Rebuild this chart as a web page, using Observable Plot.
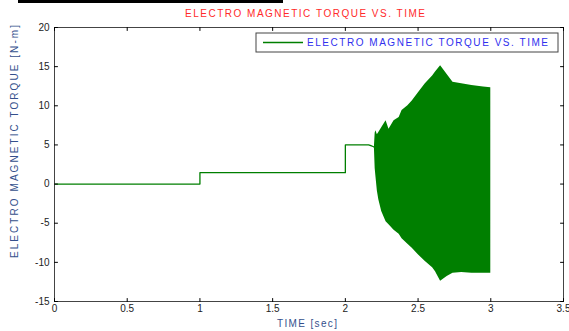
<!DOCTYPE html>
<html>
<head>
<meta charset="utf-8">
<script src="https://cdn.jsdelivr.net/npm/d3@7"></script>
<script src="https://cdn.jsdelivr.net/npm/@observablehq/plot@0.6"></script>
<style>
  html, body { margin: 0; padding: 0; background: #fff; }
  #wrap { position: relative; width: 569px; height: 331px; overflow: hidden; }
  #bar { position: absolute; left: 18px; top: 0; width: 265px; height: 3px; background: #000; z-index: 2; }
  svg { font-family: "Liberation Sans", Arial, sans-serif; }
</style>
</head>
<body>
<div id="wrap"><div id="bar"></div></div>
<script>
// Piecewise (pre-oscillation) torque trace
const stepT = [0, 1, 1, 2, 2, 2.16, 2.175, 2.19, 2.2];
const stepV = [0, 0, 1.45, 1.45, 5.0, 5.0, 4.9, 4.8, 4.7];

// Envelope of the dense oscillation
const envT =  [2.200, 2.205, 2.21, 2.22, 2.23, 2.25, 2.28, 2.30, 2.335, 2.37, 2.39, 2.43, 2.46, 2.50, 2.55, 2.60, 2.62, 2.655, 2.70, 2.74, 2.80, 2.87, 2.95, 3.00];
const envHi = [4.8, 6.5, 6.8, 6.3, 6.6, 7.2, 8.1, 7.0, 8.1, 8.5, 9.4, 10.0, 10.6, 11.6, 12.8, 13.8, 14.3, 15.1, 14.0, 13.0, 12.8, 12.6, 12.4, 12.3];
const envLo = [4.5, 2.0, 1.0, -0.9, -2.0, -3.5, -4.8, -5.2, -5.9, -6.4, -7.0, -7.7, -8.2, -9.0, -9.9, -10.7, -11.2, -12.4, -11.8, -11.4, -11.3, -11.4, -11.4, -11.4];

const xTicks = [0, 0.5, 1, 1.5, 2, 2.5, 3, 3.5];
const yTicks = [-15, -10, -5, 0, 5, 10, 15, 20];

const titleText = "ELECTRO MAGNETIC TORQUE VS. TIME";
const legendText = "ELECTRO MAGNETIC TORQUE VS. TIME";
const xLabel = "TIME [sec]";
const yLabel = "ELECTRO MAGNETIC TORQUE [N-m]";

const green = "#007f00";

const stepData = stepT.map((t, i) => ({t, v: stepV[i]}));
const envData = envT.map((t, i) => ({t, hi: envHi[i], lo: envLo[i]}));

const tickShape = {draw(context, l) { context.moveTo(0, 0); context.lineTo(0, -l); }};
const xMin = 0, xMax = 3.5, yMin = -15, yMax = 20;

const chart = Plot.plot({
  width: 569,
  height: 331,
  marginLeft: 54,
  marginRight: 6,
  marginTop: 27,
  marginBottom: 30,
  style: {fontFamily: '"Liberation Sans", Arial, sans-serif', fontSize: "10px", color: "#222", background: "white"},
  x: {domain: [xMin, xMax]},
  y: {domain: [yMin, yMax]},
  marks: [
    Plot.areaY(envData, {x: "t", y1: "lo", y2: "hi", fill: green}),
    Plot.line(stepData, {x: "t", y: "v", stroke: green, strokeWidth: 1.3}),
    Plot.frame({stroke: "#444"}),
    Plot.axisX({anchor: "bottom", ticks: xTicks, tickSize: 0, tickPadding: 3, tickFormat: d => String(d), label: null, fill: "#222"}),
    Plot.axisY({anchor: "left", ticks: yTicks, tickSize: 0, tickPadding: 5, tickFormat: d => String(d), label: null, fill: "#222"}),
    // inward tick marks on all four sides
    Plot.vector(xTicks, {x: d => d, y: yMin, length: 3, rotate: 0, anchor: "start", shape: tickShape, stroke: "#000", strokeWidth: 1}),
    Plot.vector(xTicks, {x: d => d, y: yMax, length: 3, rotate: 180, anchor: "start", shape: tickShape, stroke: "#000", strokeWidth: 1}),
    Plot.vector(yTicks, {x: xMin, y: d => d, length: 3, rotate: 90, anchor: "start", shape: tickShape, stroke: "#000", strokeWidth: 1}),
    Plot.vector(yTicks, {x: xMax, y: d => d, length: 3, rotate: 270, anchor: "start", shape: tickShape, stroke: "#000", strokeWidth: 1})
  ]
});

document.getElementById("wrap").appendChild(chart);
const svg = d3.select(chart);

// Title
svg.append("text")
  .attr("x", 185).attr("y", 17)
  .attr("text-anchor", "start")
  .attr("fill", "#ff2a2a")
  .attr("font-size", 10)
  .attr("textLength", 240).attr("lengthAdjust", "spacing")
  .text(titleText);

// Legend
const lg = svg.append("g");
lg.append("rect").attr("x", 256).attr("y", 33).attr("width", 302).attr("height", 19)
  .attr("fill", "white").attr("stroke", "#444");
lg.append("line").attr("x1", 263).attr("x2", 303).attr("y1", 42.5).attr("y2", 42.5)
  .attr("stroke", green).attr("stroke-width", 1.3);
lg.append("text").attr("x", 307).attr("y", 46)
  .attr("text-anchor", "start")
  .attr("fill", "#3030ee").attr("font-size", 10)
  .attr("textLength", 241).attr("lengthAdjust", "spacing")
  .text(legendText);

// Axis labels
svg.append("text").attr("x", 277).attr("y", 327)
  .attr("text-anchor", "start")
  .attr("fill", "#34508c").attr("font-size", 10)
  .attr("textLength", 60).attr("lengthAdjust", "spacing")
  .text(xLabel);

svg.append("text")
  .attr("transform", "translate(18,258) rotate(-90)")
  .attr("text-anchor", "start")
  .attr("fill", "#34508c").attr("font-size", 10)
  .attr("textLength", 233).attr("lengthAdjust", "spacing")
  .text(yLabel);
</script>
</body>
</html>
